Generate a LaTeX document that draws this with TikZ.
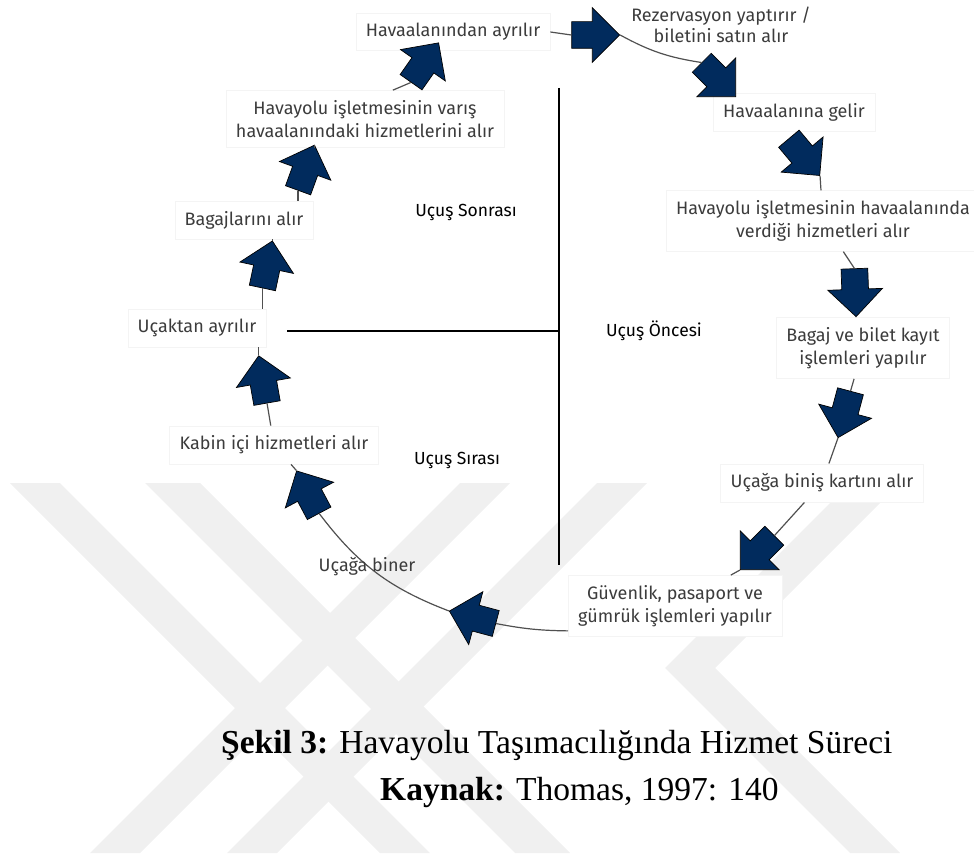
\documentclass[tikz,border=0pt]{standalone}
\usepackage{fontspec}
\setmainfont{Liberation Serif}
\newfontfamily\lblfont{Fira Sans}
\usetikzlibrary{shapes.arrows,calc}
\definecolor{navy}{HTML}{012B5D}
\definecolor{lbl}{HTML}{3C3C3C}
\definecolor{conncol}{HTML}{505050}
\definecolor{wm}{HTML}{F0F0F0}
\definecolor{boxline}{HTML}{F4F4F4}
\begin{document}
\begin{tikzpicture}[x=1pt,y=-1pt,
  box/.style={draw=boxline, fill=white, inner xsep=10pt, inner ysep=10pt,
    font=\lblfont\fontsize{18}{23}\selectfont, text=lbl, align=center},
  plainlbl/.style={inner sep=1pt, font=\lblfont\fontsize{18}{21}\selectfont, text=lbl, align=center},
  phase/.style={inner sep=1pt, font=\lblfont\fontsize{17.5}{20}\selectfont, text=black},
  barrow/.style={single arrow, draw=black, line width=0.7pt, fill=navy,
    minimum height=48pt, inner xsep=0pt, inner ysep=13pt, single arrow head extend=14pt},
  conn/.style={draw=conncol, line width=1.2pt},
  divider/.style={draw=black, line width=1.3pt},
  captext/.style={inner sep=0pt, anchor=base west, font=\fontsize{33.5}{40}\selectfont, text=black}
]
\useasboundingbox (0,0) rectangle (974,858);
% watermark
\begin{scope}
\clip (0,483) rectangle (974,853);
\fill[wm] (10,483) -- (60,483) -- (430,853) -- (380,853) -- cycle;
\fill[wm] (90,853) -- (140,853) -- (510,483) -- (460,483) -- cycle;
\fill[wm] (145,483) -- (200,483) -- (570,853) -- (515,853) -- cycle;
\fill[wm] (227,853) -- (277,853) -- (647,483) -- (597,483) -- cycle;
\fill[wm] (850,483) -- (900,483) -- (715,668) -- (900,853) -- (850,853) -- (665,668) -- cycle;
\end{scope}
% dividers
\coordinate (vtop) at (559,88);
\coordinate (vbot) at (559,565);
\coordinate (hleft) at (287,331);
\coordinate (hmid) at (559,331);
\draw[divider] (vtop) -- (vbot);
\draw[divider] (hleft) -- (hmid);
% labels
\node[box] (ayr) at (453,32) {Havaalanından ayrılır};
\node[plainlbl] (rez) at (721,25) {Rezervasyon yaptırır /\\biletini satın alır};
\node[box] (gel) at (794,112) {Havaalanına gelir};
\node[box] (hizm) at (823,221) {Havayolu işletmesinin havaalanında\\verdiği hizmetleri alır};
\node[box] (bagaj) at (863,348) {Bagaj ve bilet kayıt\\işlemleri yapılır};
\node[box] (kart) at (822,483) {Uçağa biniş kartını alır};
\node[box] (guv) at (675,606) {Güvenlik, pasaport ve\\gümrük işlemleri yapılır};
\node[box] (kabin) at (274,445) {Kabin içi hizmetleri alır};
\node[box] (ucak) at (197,328) {Uçaktan ayrılır};
\node[box] (bagajlar) at (244,220) {Bagajlarını alır};
\node[box] (varis) at (365,119) {Havayolu işletmesinin varış\\havaalanındaki hizmetlerini alır};
\node[phase] (sonra) at (466,212) {Uçuş Sonrası};
\node[phase] (once) at (654,331) {Uçuş Öncesi};
\node[phase] (sira) at (457,460) {Uçuş Sırası};
% block arrows
\node[barrow, rotate=0] (a1) at (589,35) {};
\node[barrow, rotate=-45] (a2) at (714,75) {};
\node[barrow, rotate=-50] (a3) at (800,152) {};
\node[barrow, rotate=-88] (a4) at (855,286) {};
\node[barrow, rotate=-105] (a5) at (846,408) {};
\node[barrow, rotate=-135] (a6) at (762,548) {};
\node[barrow, rotate=165] (a7) at (479,619) {};
\node[barrow, rotate=118] (a8) at (311,498) {};
\node[barrow, rotate=100] (a9) at (264,386) {};
\node[barrow, rotate=78] (a10) at (266,271) {};
\node[barrow, rotate=70] (a11) at (304,174) {};
\node[barrow, rotate=55] (a12) at (421,68) {};
% connectors
\draw[conn] (ayr.east) -- (a1.tail);
\draw[conn] (a1.tip) to[bend right=10] (a2.tail);
\draw[conn] (a3.tip) -- (hizm);
\draw[conn] (hizm) -- (a4.tail);
\draw[conn] (a4.tip) -- (bagaj);
\draw[conn] (bagaj) -- (a5.tail);
\draw[conn] (a5.tip) -- (kart);
\draw[conn] (kart) -- (a6.tail);
\draw[conn] (a6.tip) -- (guv);
\draw[conn] ([yshift=6pt]guv.south west) to[bend left=5] (a7.tail);
\draw[conn] (a7.tip) to[bend left=16] (a8.tail);
\draw[conn] (a8.tip) -- (kabin);
\draw[conn] (kabin) -- (a9.tail);
\draw[conn] (a9.tip) -- (a9.tip |- ucak.south);
\draw[conn] (a10.tail) -- (a10.tail |- ucak.north);
\draw[conn] (a10.tip) -- (a10.tip |- bagajlar.south);
\draw[conn] (a11.tail) -- (a11.tail |- bagajlar.north);
\draw[conn] (a11.tip) -- (a11.tip |- varis.south);
\draw[conn] (a12.tail) -- ([xshift=-18pt]a12.tail |- varis.north);
\node[plainlbl] (biner) at (367,567) {Uçağa biner};
% caption
\node[captext] (caption) at (221,753) {\textbf{Şekil 3:} Havayolu Taşımacılığında Hizmet Süreci};
\node[captext] (source) at (380,800) {\textbf{Kaynak:} Thomas, 1997: 140};
\end{tikzpicture}
\end{document}
